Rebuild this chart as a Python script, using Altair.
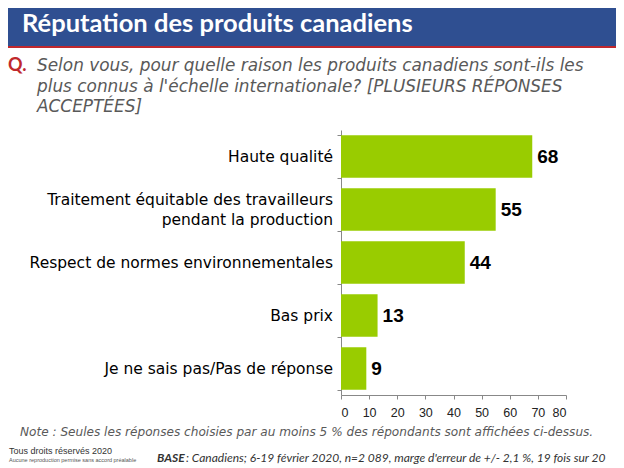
import altair as alt
import pandas as pd

categories = [
    "Haute qualité",
    "Traitement équitable des travailleurs|pendant la production",
    "Respect de normes environnementales",
    "Bas prix",
    "Je ne sais pas/Pas de réponse",
]
values = [68, 55, 44, 13, 9]
x_ticks = [0, 10, 20, 30, 40, 50, 60, 70, 80]

title_text = "Réputation des produits canadiens"
question_lines = [
    "Selon vous, pour quelle raison les produits canadiens sont-ils les",
    "plus connus à l'échelle internationale? [PLUSIEURS RÉPONSES",
    "ACCEPTÉES]",
]
note_text = "Note : Seules les réponses choisies par au moins 5 % des répondants sont affichées ci-dessus."
footer1 = "Tous droits réservés 2020"
footer2 = "Aucune reproduction permise sans accord préalable"
base_bold = "BASE"
base_rest = " : Canadiens; 6-19 février 2020, n=2 089, marge d'erreur de +/- 2,1 %, 19 fois sur 20"

df = pd.DataFrame({"cat": categories, "val": values})

BLUE = "#2F4F91"
RED = "#C0282D"
GREEN = "#99CC00"
GRAY = "#595959"

yenc = alt.Y(
    "cat:N",
    sort=categories,
    scale=alt.Scale(paddingInner=0.2, paddingOuter=0.1),
    axis=alt.Axis(
        title=None,
        labels=False,
        tickSize=4,
        tickBand="extent",
        tickColor="#888888",
        domainColor="#888888",
    ),
)
xenc = alt.X(
    "val:Q",
    scale=alt.Scale(domain=[0, 80]),
    axis=alt.Axis(
        title=None,
        values=x_ticks,
        tickCount=9,
        grid=False,
        labelOverlap=False,
        labelFont="Liberation Sans",
        labelFontSize=12.5,
        labelColor="#222222",
        labelPadding=7,
        tickSize=4,
        tickColor="#888888",
        domainColor="#888888",
    ),
)

bars = alt.Chart(df).mark_bar(color=GREEN).encode(x=xenc, y=yenc)
labels = alt.Chart(df).mark_text(
    align="left", baseline="middle", dx=5, font="Liberation Sans",
    fontSize=19, fontWeight="bold", color="#000000"
).encode(x=xenc, y=yenc, text="val:Q")

cat_single = alt.Chart(df).transform_filter(
    "indexof(datum.cat, '|') < 0"
).mark_text(
    align="right", baseline="middle", font="DejaVu Sans", fontSize=15.5, color="#000000"
).encode(x=alt.value(-8), y=yenc, text="cat:N")
cat_multi = alt.Chart(df).transform_filter(
    "indexof(datum.cat, '|') >= 0"
).mark_text(
    align="right", baseline="middle", font="DejaVu Sans", fontSize=15.5, color="#000000",
    lineBreak="|", lineHeight=20, dy=-10
).encode(x=alt.value(-8), y=yenc, text="cat:N")

one = pd.DataFrame({"k": [0]})

banner = alt.Chart(one).mark_rect(color=BLUE).encode(
    x=alt.value(-333), x2=alt.value(275), y=alt.value(-122), y2=alt.value(-84)
)
redline = alt.Chart(one).mark_rect(color=RED).encode(
    x=alt.value(-333), x2=alt.value(275), y=alt.value(-84), y2=alt.value(-82)
)
title = alt.Chart(one).mark_text(
    text=title_text, align="left", baseline="alphabetic", font="Lato",
    fontSize=25.5, fontWeight="bold", color="#FFFFFF"
).encode(x=alt.value(-319), y=alt.value(-98))

q_mark = alt.Chart(one).mark_text(
    text="Q.", align="left", baseline="alphabetic", font="Lato",
    fontSize=18, fontWeight="bold", color=RED
).encode(x=alt.value(-333), y=alt.value(-59))
question = alt.Chart(one).mark_text(
    text=question_lines, align="left", baseline="alphabetic", font="DejaVu Sans",
    fontSize=16.9, fontStyle="italic", color=GRAY, lineHeight=20.5
).encode(x=alt.value(-304), y=alt.value(-59))

note = alt.Chart(one).mark_text(
    text=note_text, align="left", baseline="middle", font="DejaVu Sans",
    fontSize=12.1, fontStyle="italic", color=GRAY
).encode(x=alt.value(-321), y=alt.value(302))

f1 = alt.Chart(one).mark_text(
    text=footer1, align="left", baseline="middle", font="Liberation Sans",
    fontSize=9, color="#333333"
).encode(x=alt.value(-332), y=alt.value(321))
f2 = alt.Chart(one).mark_text(
    text=footer2, align="left", baseline="middle", font="Liberation Sans",
    fontSize=5.5, color="#555555"
).encode(x=alt.value(-332), y=alt.value(330))
b1 = alt.Chart(one).mark_text(
    text=base_bold, align="left", baseline="middle", font="Lato",
    fontSize=12, fontWeight="bold", fontStyle="italic", color="#333333"
).encode(x=alt.value(-184), y=alt.value(328))
b2 = alt.Chart(one).mark_text(
    text=base_rest, align="left", baseline="middle", font="Lato",
    fontSize=12, fontStyle="italic", color="#333333"
).encode(x=alt.value(-155), y=alt.value(328))

chart = alt.layer(
    bars, labels, cat_single, cat_multi,
    banner, redline, title, q_mark, question, note, f1, f2, b1, b2
).properties(
    width=225,
    height=265,
    padding={"left": 333, "top": 122, "right": 50, "bottom": 73},
    autosize=alt.AutoSizeParams(type="none"),
    background="#FFFFFF",
).configure_view(stroke=None)

chart.save("out.html", embed_options={"renderer": "svg", "actions": False})
